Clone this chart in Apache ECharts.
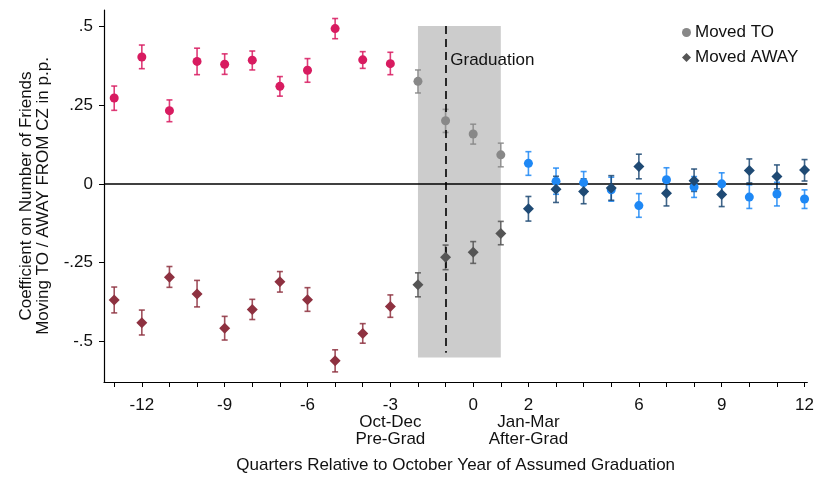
<!DOCTYPE html>
<html>
<head>
<meta charset="utf-8">
<script src="https://cdn.jsdelivr.net/npm/echarts@6/dist/echarts.min.js"></script>
<style>html,body{margin:0;padding:0;background:#fff}#c{width:817px;height:479px}</style>
</head>
<body>
<div id="c"></div>
<script>
// ---- data ----
const quarters = [-13,-12,-11,-10,-9,-8,-7,-6,-5,-4,-3,-2,-1,0,1,2,3,4,5,6,7,8,9,10,11,12];
const toCoef = [0.272,0.402,0.232,0.388,0.379,0.392,0.309,0.360,0.492,0.393,0.381,0.325,0.200,0.158,0.092,0.065,0.008,0.004,-0.019,-0.069,0.013,-0.010,0.000,-0.042,-0.032,-0.048];
const toLo   = [0.233,0.365,0.197,0.346,0.347,0.361,0.278,0.322,0.460,0.366,0.346,0.288,0.163,0.126,0.054,0.027,-0.033,-0.031,-0.055,-0.106,-0.026,-0.043,-0.035,-0.078,-0.070,-0.078];
const toHi   = [0.310,0.440,0.266,0.430,0.412,0.421,0.340,0.397,0.524,0.419,0.417,0.361,0.236,0.189,0.129,0.102,0.050,0.039,0.021,-0.031,0.051,0.023,0.035,-0.003,0.005,-0.019];
const awayCoef = [-0.368,-0.440,-0.296,-0.349,-0.458,-0.398,-0.310,-0.367,-0.561,-0.474,-0.389,-0.320,-0.233,-0.217,-0.157,-0.079,-0.017,-0.024,-0.013,0.055,-0.030,0.010,-0.034,0.042,0.023,0.044];
const awayLo   = [-0.409,-0.479,-0.328,-0.390,-0.495,-0.430,-0.343,-0.404,-0.596,-0.505,-0.423,-0.358,-0.272,-0.252,-0.193,-0.118,-0.059,-0.063,-0.052,0.016,-0.070,-0.024,-0.072,0.003,-0.016,0.009];
const awayHi   = [-0.327,-0.400,-0.262,-0.306,-0.420,-0.366,-0.278,-0.329,-0.526,-0.443,-0.352,-0.282,-0.194,-0.183,-0.119,-0.040,0.024,0.016,0.026,0.094,0.009,0.047,0.003,0.079,0.060,0.077];

const xTickValues = [-13,-12,-11,-10,-9,-8,-7,-6,-5,-4,-3,-2,-1,0,1,2,3,4,5,6,7,8,9,10,11,12];
const xLabelValues = [-12,-9,-6,-3,0,2,6,9,12];
const xLabelTexts  = ['-12','-9','-6','-3\nOct-Dec\nPre-Grad','0','2\nJan-Mar\nAfter-Grad','6','9','12'];
const yLabelValues = [-0.5,-0.25,0,0.25,0.5];
const yLabelTexts  = ['-.5','-.25','0','.25','.5'];

const gradLine = -1;
const gradWindow = [-2, 1];

const colTO   = {pre:'#d81b60', mid:'#888888', post:'#1e88f5'};
const colAWAY = {pre:'#8e3140', mid:'#555555', post:'#1f4a74'};
function period(x){ return x <= -3 ? 'pre' : (x <= 1 ? 'mid' : 'post'); }

const toPts   = quarters.map((q,i)=>[q, toCoef[i]]);
const awayPts = quarters.map((q,i)=>[q, awayCoef[i]]);
const toBars  = quarters.map((q,i)=>[q, toLo[i], toHi[i]]);
const awayBars= quarters.map((q,i)=>[q, awayLo[i], awayHi[i]]);

function barRenderer(pal){
  return function(params, api){
    const x = api.value(0);
    const lo = api.coord([x, api.value(1)]);
    const hi = api.coord([x, api.value(2)]);
    const c = pal[period(x)];
    const w = 3;
    const st = {stroke:c, lineWidth:1.6, opacity:0.85};
    return {type:'group', children:[
      {type:'line', shape:{x1:lo[0],y1:lo[1],x2:hi[0],y2:hi[1]}, style:st},
      {type:'line', shape:{x1:lo[0]-w,y1:lo[1],x2:lo[0]+w,y2:lo[1]}, style:st},
      {type:'line', shape:{x1:hi[0]-w,y1:hi[1],x2:hi[0]+w,y2:hi[1]}, style:st}
    ]};
  };
}

const sans = '"Liberation Sans", Arial, Helvetica, sans-serif';

const chart = echarts.init(document.getElementById('c'), null, {renderer:'canvas'});
chart.setOption({
  animation:false,
  backgroundColor:'#ffffff',
  grid:{left:104, right:9, top:10, bottom:93, containLabel:false},
  legend:{
    orient:'vertical', left:677, top:19, itemGap:8, itemWidth:9, itemHeight:9,
    textStyle:{fontFamily:sans, fontSize:17, color:'#111', padding:[0,0,0,-1]},
    data:[
      {name:'Moved TO', icon:'circle', itemStyle:{color:'#888888'}},
      {name:'Moved AWAY', icon:'diamond', itemStyle:{color:'#555555'}}
    ]
  },
  xAxis:{
    type:'value', min:-13.37, max:12.1,
    name:'Quarters Relative to October Year of Assumed Graduation',
    nameLocation:'middle', nameGap:75,
    nameTextStyle:{fontFamily:sans, fontSize:17, color:'#111'},
    axisLine:{onZero:false, lineStyle:{color:'#000', width:1.2}},
    axisTick:{show:true, length:5, customValues:xTickValues, lineStyle:{color:'#000'}},
    axisLabel:{customValues:xLabelValues, fontFamily:sans, fontSize:17, color:'#111', lineHeight:17, margin:15,
      formatter:function(v){ const i = xLabelValues.indexOf(v); return i>=0 ? xLabelTexts[i] : ''; }},
    splitLine:{show:false}
  },
  yAxis:{
    type:'value', min:-0.628, max:0.551,
    name:'Coefficient on Number of Friends\nMoving TO / AWAY FROM CZ in p.p.',
    nameLocation:'middle', nameGap:52,
    nameTextStyle:{fontFamily:sans, fontSize:17, color:'#111', lineHeight:17},
    axisLine:{show:true, onZero:false, lineStyle:{color:'#000', width:1.2}},
    axisTick:{show:true, length:5, customValues:yLabelValues, lineStyle:{color:'#000'}},
    axisLabel:{customValues:yLabelValues, fontFamily:sans, fontSize:17, color:'#111', margin:11,
      formatter:function(v){ const i = yLabelValues.findIndex(t=>Math.abs(t-v)<1e-9); return i>=0 ? yLabelTexts[i] : ''; }},
    splitLine:{show:false}
  },
  series:[
    {type:'line', name:'zero', data:[], z:1, silent:true,
      markLine:{silent:true, symbol:['none','none'], label:{show:false},
        lineStyle:{color:'#000', width:1.5, type:'solid'}, data:[{yAxis:0}]}},
    {type:'line', name:'window', data:[], z:2, silent:true,
      markArea:{silent:true, itemStyle:{color:'#cccccc', opacity:1},
        data:[[{coord:[gradWindow[0], -0.55]},{coord:[gradWindow[1], 0.5]}]]},
      markLine:{silent:true, symbol:['none','none'],
        label:{show:false},
        lineStyle:{color:'#000', width:1.6, type:[8,5]},
        data:[[{coord:[gradLine, 0.5]},{coord:[gradLine, -0.535]}]]},
      markPoint:{silent:true, symbol:'circle', symbolSize:0,
        label:{show:true, position:'right', distance:0, formatter:'Graduation', fontFamily:sans, fontSize:17, color:'#111'},
        data:[{coord:[-0.83, 0.39]}]}
    },
    {type:'custom', name:'toBars', z:4, renderItem:barRenderer(colTO), data:toBars, encode:{x:0,y:[1,2]}},
    {type:'custom', name:'awayBars', z:4, renderItem:barRenderer(colAWAY), data:awayBars, encode:{x:0,y:[1,2]}},
    {type:'scatter', name:'Moved TO', z:5, symbol:'circle', symbolSize:9, data:toPts,
      itemStyle:{opacity:1, color:function(p){ return colTO[period(p.value[0])]; }}},
    {type:'scatter', name:'Moved AWAY', z:5, symbol:'diamond', symbolSize:11, data:awayPts,
      itemStyle:{opacity:1, color:function(p){ return colAWAY[period(p.value[0])]; }}}
  ]
});
</script>
</body>
</html>
